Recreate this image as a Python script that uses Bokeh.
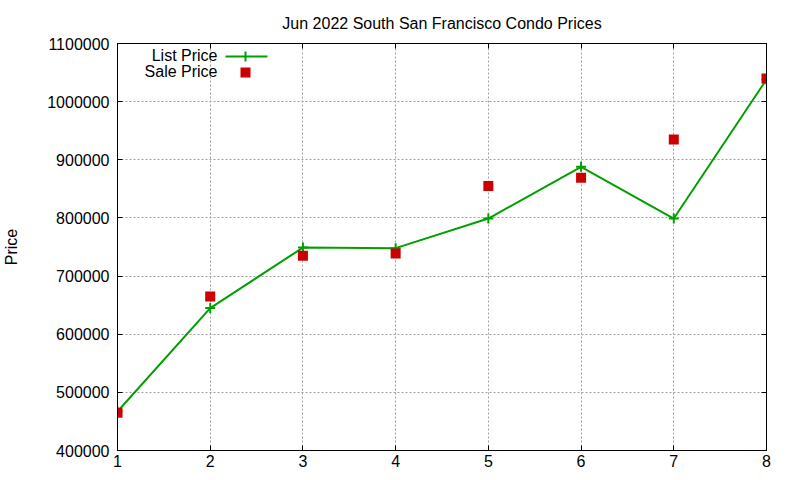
from bokeh.plotting import figure
from bokeh.models import (Range1d, FixedTicker, BasicTickFormatter, LinearAxis,
                          Label, Arrow, BoxAnnotation)
from bokeh.embed import file_html
from bokeh.resources import INLINE

title_text = "Jun 2022 South San Francisco Condo Prices"
y_label = "Price"
x_ticks = [1, 2, 3, 4, 5, 6, 7, 8]
y_ticks = [400000, 500000, 600000, 700000, 800000, 900000, 1000000, 1100000]
weeks = [1, 2, 3, 4, 5, 6, 7, 8]
list_price = [467000, 645000, 749000, 748000, 799000, 888000, 799000, 1038000]
sale_price = [465000, 665000, 735000, 739000, 855000, 869000, 935000, 1040000]
series_names = ["List Price", "Sale Price"]

GREEN = "#00a000"
RED = "#cc0000"
FONT = "Liberation Sans"
FS = "16px"

p = figure(width=784, height=472, output_backend="svg", toolbar_location=None,
           x_range=Range1d(1, 8), y_range=Range1d(400000, 1100000),
           min_border_left=110, min_border_right=18, min_border_top=36,
           min_border_bottom=22)

p.title.text = title_text
p.title.align = "center"
p.title.text_font = FONT
p.title.text_font_size = FS
p.title.text_font_style = "normal"
p.title.text_color = "black"
p.title.standoff = 24

p.outline_line_color = "black"
p.outline_line_width = 1
p.outline_line_alpha = 1

def style_axis(ax, labels=True):
    ax.axis_line_color = "black"
    ax.major_tick_in = 5
    ax.major_tick_out = 0
    ax.minor_tick_in = 0
    ax.minor_tick_out = 0
    ax.major_tick_line_color = "black"
    ax.major_label_text_font = FONT
    ax.major_label_text_font_size = FS
    ax.major_label_text_color = "black"

p.xaxis.ticker = FixedTicker(ticks=x_ticks)
p.yaxis.ticker = FixedTicker(ticks=y_ticks)
p.yaxis.formatter = BasicTickFormatter(use_scientific=False)
style_axis(p.xaxis[0])
style_axis(p.yaxis[0])
p.xaxis.major_label_standoff = 4
p.yaxis.major_label_standoff = 8
p.yaxis.axis_label = y_label
p.yaxis.axis_label_text_font = FONT
p.yaxis.axis_label_text_font_size = FS
p.yaxis.axis_label_text_font_style = "normal"
p.yaxis.axis_label_text_color = "black"
p.yaxis.axis_label_standoff = 24

rax = LinearAxis(ticker=FixedTicker(ticks=y_ticks))
style_axis(rax)
rax.major_label_overrides = {t: "" for t in y_ticks}
rax.major_label_standoff = 0
rax.axis_label_standoff = 0
p.add_layout(rax, "right")
tax = LinearAxis(ticker=FixedTicker(ticks=x_ticks))
style_axis(tax)
tax.major_label_overrides = {t: "" for t in x_ticks}
tax.major_label_standoff = 0
tax.axis_label_standoff = 0
p.add_layout(tax, "above")

for g in (p.xgrid[0], p.ygrid[0]):
    g.grid_line_color = "#a0a0a0"
    g.grid_line_dash = "2 2"
    g.grid_line_width = 1
p.xgrid.ticker = FixedTicker(ticks=x_ticks)
p.ygrid.ticker = FixedTicker(ticks=y_ticks)

p.line(weeks, list_price, line_color=GREEN, line_width=2)
p.scatter(weeks, list_price, marker="cross", size=10, line_color=GREEN, line_width=2)
p.scatter(weeks, sale_price, marker="square", size=10, fill_color=RED,
          line_color=RED, line_width=0)

# custom gnuplot-style key (label left, sample right), frame-relative screen units
for name, yy in zip(series_names, [395, 379]):
    p.add_layout(Label(x=100, y=yy, x_units="screen", y_units="screen", text=name,
                       text_align="right", text_baseline="middle",
                       text_font=FONT, text_font_size=FS, text_color="black"))
p.add_layout(Arrow(x_start=108, y_start=394, x_end=150, y_end=394,
                   start_units="screen", end_units="screen", end=None,
                   line_color=GREEN, line_width=2))
p.add_layout(Arrow(x_start=128, y_start=389, x_end=128, y_end=399,
                   start_units="screen", end_units="screen", end=None,
                   line_color=GREEN, line_width=2))
p.add_layout(BoxAnnotation(left=123, right=133, bottom=373, top=383,
                           left_units="screen", right_units="screen",
                           top_units="screen", bottom_units="screen",
                           fill_color=RED, fill_alpha=1, line_alpha=0))

open("out.html", "w").write(file_html(p, INLINE))
